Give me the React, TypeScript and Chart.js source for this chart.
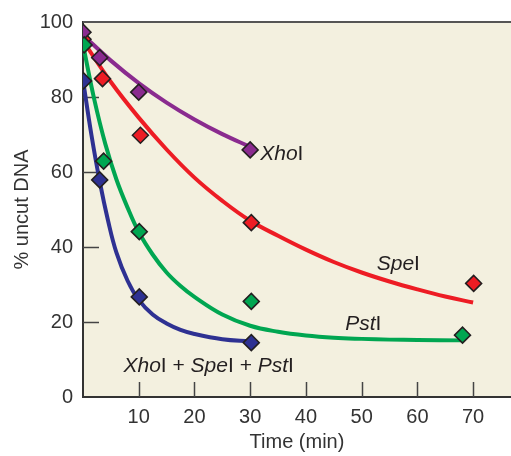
import React, { useEffect, useRef } from "react";
import { Chart, registerables } from "chart.js";

Chart.register(...registerables);

// ---- axis ticks ----
const xTickValues = [10, 20, 30, 40, 50, 60, 70];
const yTickValues = [0, 20, 40, 60, 80, 100];
const yInnerTickValues = [20, 40, 60, 80];

// ---- measured points (time in min, % uncut DNA) ----
const xhoTime = [0, 3, 10, 30];
const xhoPct = [97.3, 90.5, 81.3, 65.9];
const speTime = [0, 3.5, 10.3, 30.2, 70.1];
const spePct = [95.4, 84.9, 69.8, 46.5, 30.3];
const pstTime = [0.2, 3.7, 10.1, 30.2, 68.1];
const pstPct = [93.9, 62.9, 44.1, 25.5, 16.5];
const mixTime = [0.1, 3, 10.1, 30.2];
const mixPct = [84.3, 57.9, 26.7, 14.5];

// ---- fitted curves ----
const xhoCurveTime = [0, 5, 10, 15, 20, 25, 30];
const xhoCurvePct = [96.5, 89.7, 83.7, 78.5, 74.0, 70.1, 66.7];
const speCurveTime = [0, 5, 10, 15, 20, 25, 30, 35, 40, 45, 50, 55, 60, 65, 70];
const speCurvePct = [95, 84, 74.5, 66, 58.5, 52.3, 47, 43, 39.3, 36, 33.2, 30.8, 28.7, 26.8, 25.2];
const pstCurveTime = [0, 2, 4, 6, 8, 10, 12.5, 15, 17.5, 20, 25, 30, 35, 40, 45, 50, 55, 60, 68];
const pstCurvePct = [94, 79.5, 67.5, 58, 50.5, 44, 38, 33.2, 29.6, 26.7, 22, 19, 17.4, 16.4, 15.8, 15.5, 15.3, 15.2, 15.1];
const mixCurveTime = [0, 1.5, 3, 4.5, 6, 8, 10, 12.5, 15, 17.5, 20, 25, 30];
const mixCurvePct = [84.5, 70, 57.5, 47, 38.5, 31, 25.9, 22, 19.6, 17.9, 16.8, 15.4, 14.8];

// ---- colours ----
const xhoColor = "#8a2b8f";
const speColor = "#ed1c24";
const pstColor = "#00a651";
const mixColor = "#2e3192";

// ---- in-plot labels (segments: text, italic?) and their data positions ----
const xhoLabel: [string, boolean][] = [["Xho", true], ["I", false]];
const speLabel: [string, boolean][] = [["Spe", true], ["I", false]];
const pstLabel: [string, boolean][] = [["Pst", true], ["I", false]];
const mixLabel: [string, boolean][] = [
  ["Xho", true], ["I + ", false], ["Spe", true], ["I + ", false], ["Pst", true], ["I", false],
];
const labelSegments = [xhoLabel, speLabel, pstLabel, mixLabel];
const labelX = [31.8, 52.7, 47.05, 7.26];
const labelY = [63.2, 33.9, 17.9, 6.75];

const FONT = "'Liberation Sans', Arial, Helvetica, sans-serif";

const toXY = (xs: number[], ys: number[]) => xs.map((x, i) => ({ x, y: ys[i] }));

const curve = (xs: number[], ys: number[], color: string) => ({
  type: "scatter" as const,
  data: toXY(xs, ys),
  showLine: true,
  borderColor: color,
  backgroundColor: color,
  borderWidth: 4,
  pointRadius: 0,
  tension: 0.4,
  order: 5,
});

const markers = (xs: number[], ys: number[], color: string, order: number) => ({
  type: "scatter" as const,
  data: toXY(xs, ys),
  showLine: false,
  pointStyle: "rectRot",
  pointRadius: 8,
  pointBorderWidth: 1.5,
  pointBorderColor: "#231f20",
  pointBackgroundColor: color,
  order,
});

const decorPlugin = {
  id: "decor",
  beforeDraw(chart: any) {
    const { ctx, chartArea } = chart;
    ctx.save();
    ctx.fillStyle = "#f3f0df";
    ctx.fillRect(chartArea.left, chartArea.top, chartArea.right - chartArea.left, chartArea.bottom - chartArea.top);
    ctx.restore();
  },
  beforeDatasetsDraw(chart: any) {
    const { ctx, chartArea, scales } = chart;
    ctx.save();
    ctx.strokeStyle = "#444";
    ctx.lineWidth = 1.5;
    ctx.beginPath();
    yInnerTickValues.forEach((v) => {
      const y = Math.round(scales.y.getPixelForValue(v)) + 0.5;
      ctx.moveTo(chartArea.left, y);
      ctx.lineTo(chartArea.left + 16, y);
    });
    xTickValues.forEach((v) => {
      const x = Math.round(scales.x.getPixelForValue(v)) + 0.5;
      ctx.moveTo(x, chartArea.bottom);
      ctx.lineTo(x, chartArea.bottom - 15);
    });
    ctx.stroke();
    ctx.strokeStyle = "#555";
    ctx.lineWidth = 2;
    ctx.beginPath();
    ctx.moveTo(chartArea.left, chartArea.top);
    ctx.lineTo(chartArea.right, chartArea.top);
    ctx.stroke();
    ctx.restore();
  },
  afterDatasetsDraw(chart: any) {
    const { ctx, scales } = chart;
    ctx.save();
    ctx.fillStyle = "#231f20";
    ctx.textBaseline = "alphabetic";
    ctx.textAlign = "left";
    labelSegments.forEach((segs, i) => {
      let x = scales.x.getPixelForValue(labelX[i]);
      const y = scales.y.getPixelForValue(labelY[i]);
      segs.forEach(([text, italic]) => {
        ctx.font = `${italic ? "italic " : ""}21px ${FONT}`;
        ctx.fillText(text, x, y);
        x += ctx.measureText(text).width;
      });
    });
    ctx.restore();
  },
};

export default function App() {
  const canvasRef = useRef<HTMLCanvasElement | null>(null);

  useEffect(() => {
    const canvas = canvasRef.current;
    if (!canvas) return;
    const chart = new Chart(canvas, {
      type: "scatter",
      data: {
        datasets: [
          markers(pstTime, pstPct, pstColor, 0),
          markers(xhoTime, xhoPct, xhoColor, 1),
          markers(speTime, spePct, speColor, 2),
          markers(mixTime, mixPct, mixColor, 1),
          curve(xhoCurveTime, xhoCurvePct, xhoColor),
          curve(speCurveTime, speCurvePct, speColor),
          curve(pstCurveTime, pstCurvePct, pstColor),
          curve(mixCurveTime, mixCurvePct, mixColor),
        ] as any,
      },
      options: {
        responsive: false,
        animation: false,
        devicePixelRatio: 1,
        layout: { autoPadding: false, padding: { top: 22, left: 0, right: 0, bottom: 0 } },
        plugins: {
          legend: { display: false },
          tooltip: { enabled: false },
        },
        scales: {
          x: {
            type: "linear",
            min: 0,
            max: 76.8,
            afterBuildTicks: (scale: any) => {
              scale.ticks = xTickValues.map((v) => ({ value: v }));
            },
            afterFit: (scale: any) => {
              scale.height = 59;
              scale.paddingLeft = 0;
              scale.paddingRight = 0;
            },
            grid: { display: false, drawTicks: false },
            border: { display: true, color: "#333", width: 2 },
            ticks: {
              padding: 8,
              color: "#333",
              font: { family: FONT, size: 20 },
              maxRotation: 0,
              autoSkip: false,
            },
            title: {
              display: true,
              text: "Time (min)",
              color: "#333",
              font: { family: FONT, size: 20 },
              padding: { top: 0, bottom: 2 },
            },
          },
          y: {
            type: "linear",
            min: 0,
            max: 100,
            afterBuildTicks: (scale: any) => {
              scale.ticks = yTickValues.map((v) => ({ value: v }));
            },
            afterFit: (scale: any) => {
              scale.width = 83;
              scale.paddingTop = 0;
              scale.paddingBottom = 0;
            },
            grid: { display: false, drawTicks: false },
            border: { display: true, color: "#333", width: 2 },
            ticks: {
              padding: 10,
              color: "#333",
              font: { family: FONT, size: 20 },
              autoSkip: false,
            },
            title: {
              display: true,
              text: "% uncut DNA",
              color: "#333",
              font: { family: FONT, size: 20 },
              padding: { top: 10, bottom: 0 },
            },
          },
        },
      } as any,
      plugins: [decorPlugin],
    });
    return () => chart.destroy();
  }, []);

  return (
    <div style={{ position: "fixed", left: 0, top: 0, width: 511, height: 456, background: "#fff" }}>
      <canvas ref={canvasRef} width={511} height={456} style={{ display: "block" }} />
    </div>
  );
}
